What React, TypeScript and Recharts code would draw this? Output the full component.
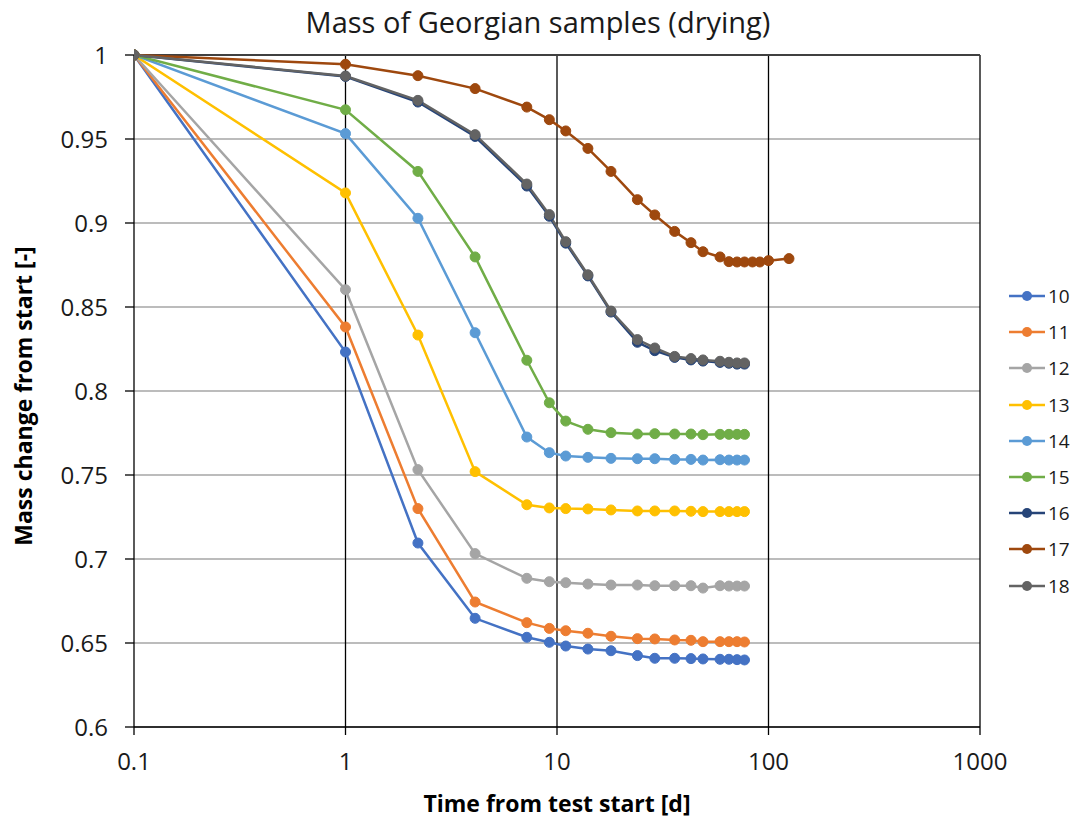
import { CartesianGrid, Line, LineChart, ReferenceLine, XAxis, YAxis } from 'recharts';

// elapsed time in days (series 17 was logged longer than the others)
const days = [0.1, 1, 2.2, 4.1, 7.2, 9.2, 11, 14, 18, 24, 29, 36, 43, 49, 59, 65, 71, 77, 84, 91, 100, 125];

const s10 = [1, 0.8232, 0.7095, 0.6647, 0.6534, 0.6504, 0.6482, 0.6464, 0.6454, 0.6425, 0.6409, 0.6409, 0.6407, 0.6405, 0.6403, 0.6403, 0.6401, 0.6399];
const s11 = [1, 0.8381, 0.73, 0.6744, 0.6621, 0.6587, 0.6573, 0.6558, 0.654, 0.6526, 0.6524, 0.6518, 0.6516, 0.6508, 0.6508, 0.6508, 0.6508, 0.6506];
const s12 = [1, 0.8603, 0.7532, 0.7032, 0.6885, 0.6865, 0.6859, 0.6851, 0.6845, 0.6845, 0.6841, 0.6841, 0.6841, 0.6827, 0.6841, 0.6839, 0.6839, 0.6839];
const s13 = [1, 0.9179, 0.8333, 0.752, 0.7323, 0.7304, 0.73, 0.7298, 0.7292, 0.7286, 0.7286, 0.7286, 0.7284, 0.7282, 0.7282, 0.7282, 0.7282, 0.7282];
const s14 = [1, 0.9532, 0.9028, 0.8347, 0.7726, 0.7633, 0.7613, 0.7605, 0.7599, 0.7597, 0.7597, 0.7593, 0.7593, 0.7589, 0.7591, 0.7589, 0.7589, 0.7589];
const s15 = [1, 0.9674, 0.9307, 0.8798, 0.8183, 0.793, 0.7821, 0.7772, 0.7752, 0.7744, 0.7746, 0.7744, 0.7744, 0.774, 0.7742, 0.7742, 0.7742, 0.7742];
const s16 = [1, 0.9872, 0.972, 0.9515, 0.922, 0.904, 0.888, 0.8685, 0.847, 0.829, 0.824, 0.82, 0.8185, 0.8178, 0.817, 0.8165, 0.816, 0.816];
const s17 = [1, 0.9945, 0.9877, 0.98, 0.969, 0.9615, 0.9548, 0.9444, 0.9307, 0.9139, 0.9048, 0.895, 0.8883, 0.8829, 0.8798, 0.877, 0.8768, 0.8768, 0.8768, 0.8768, 0.8776, 0.8788];
const s18 = [1, 0.9875, 0.973, 0.9526, 0.9232, 0.905, 0.8889, 0.8692, 0.8476, 0.8306, 0.8256, 0.8206, 0.8193, 0.8185, 0.8177, 0.8171, 0.8167, 0.8167];

const seriesNames = ['10', '11', '12', '13', '14', '15', '16', '17', '18'];
const seriesValues = [s10, s11, s12, s13, s14, s15, s16, s17, s18];
const seriesColors = ['#4472C4', '#ED7D31', '#A5A5A5', '#FFC000', '#5B9BD5', '#70AD47', '#264478', '#9E480E', '#636363'];

const xTicks = [0.1, 1, 10, 100, 1000];
const yTicks = [0.6, 0.65, 0.7, 0.75, 0.8, 0.85, 0.9, 0.95, 1];

const rows = days.map((t, i) => {
  const row: Record<string, number | undefined> = { t };
  seriesNames.forEach((name, k) => {
    row[name] = seriesValues[k][i];
  });
  return row;
});

const font = '"Open Sans", sans-serif';
const textColor = '#1a1a1a';

export default function App() {
  return (
    <div style={{ position: 'absolute', left: 0, top: 0, width: 1076, height: 821, background: '#fff', fontFamily: font }}>
      <div style={{ position: 'absolute', top: 2, left: 0, width: 1076, textAlign: 'center', fontSize: 29, color: textColor }}>
        Mass of Georgian samples (drying)
      </div>
      <LineChart width={1076} height={821} data={rows} margin={{ top: 55, right: 96, bottom: 0, left: 0 }}>
        <CartesianGrid vertical={false} stroke="#a6a6a6" strokeWidth={1.5} />
        {xTicks.slice(1).map((x) => (
          <ReferenceLine key={x} x={x} stroke="#000" strokeWidth={1.3} />
        ))}
        <ReferenceLine y={1} stroke="#404040" strokeWidth={2} />
        <XAxis
          dataKey="t"
          type="number"
          scale="log"
          domain={[0.1, 1000]}
          ticks={xTicks}
          allowDataOverflow
          height={94}
          stroke="#000"
          strokeWidth={1.3}
          tickSize={8}
          tickMargin={18}
          tick={{ fill: textColor, fontSize: 24, fontFamily: font }}
          tickFormatter={(v) => String(v)}
          label={{ value: 'Time from test start [d]', position: 'insideBottom', offset: 9, fill: '#000', fontSize: 23, fontWeight: 700, fontFamily: font }}
        />
        <YAxis
          type="number"
          domain={[0.6, 1]}
          ticks={yTicks}
          width={134}
          stroke="#000"
          strokeWidth={1.3}
          tickSize={9}
          tickMargin={17}
          tick={{ fill: textColor, fontSize: 24, fontFamily: font }}
          tickFormatter={(v) => String(Number(Number(v).toFixed(2)))}
        />
        {seriesNames.map((name, k) => (
          <Line
            key={name}
            dataKey={name}
            stroke={seriesColors[k]}
            strokeWidth={2.5}
            dot={{ r: 5, fill: seriesColors[k], stroke: seriesColors[k], strokeWidth: 1 }}
            isAnimationActive={false}
          />
        ))}
      </LineChart>
      {/* y axis title, rotated around its own centre */}
      <div
        style={{
          position: 'absolute',
          left: 23 - 200,
          top: 396 - 16,
          width: 400,
          height: 32,
          lineHeight: '32px',
          textAlign: 'center',
          transform: 'rotate(-90deg)',
          fontSize: 23,
          fontWeight: 700,
          color: '#000',
          whiteSpace: 'nowrap',
        }}
      >
        Mass change from start [-]
      </div>
      <div style={{ position: 'absolute', left: 1009, top: 278 }}>
        {seriesNames.map((name, k) => (
          <div key={name} style={{ display: 'flex', alignItems: 'center', height: 36.2 }}>
            <svg width={36} height={12}>
              <line x1={0} y1={6} x2={36} y2={6} stroke={seriesColors[k]} strokeWidth={2.5} />
              <circle cx={18} cy={6} r={5} fill={seriesColors[k]} />
            </svg>
            <span style={{ marginLeft: 3, fontSize: 19, color: textColor }}>{name}</span>
          </div>
        ))}
      </div>
    </div>
  );
}
